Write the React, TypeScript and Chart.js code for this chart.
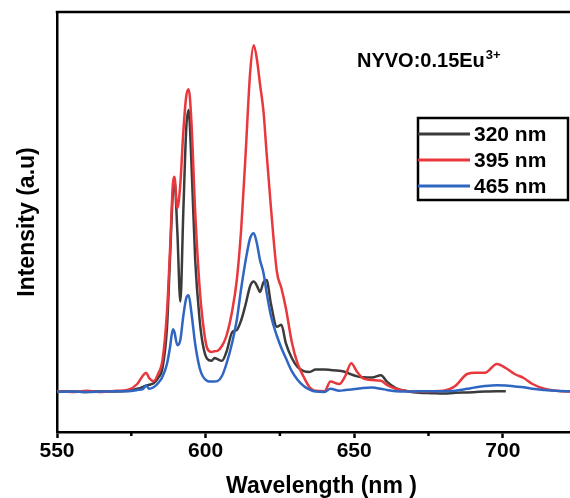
import React, { useEffect, useRef } from 'react';
import { Chart, registerables } from 'chart.js';

Chart.register(...registerables);

// ---- data ----
const wavelengths = [
  550, 555, 560, 565, 570, 574, 577, 579, 580, 581, 582.5, 584, 585.5, 587, 588, 589, 589.5, 590.5,
  591.5, 592.5, 593.5, 594.3, 595.2, 596.5, 598, 599, 600.5, 602, 603, 604, 605.5, 607, 609, 610.5,
  612, 613.5, 615, 616.2, 617.3, 618.3, 619.5, 620.5, 622, 624, 625.5, 627, 629, 631, 633, 635, 637,
  640, 642, 645, 647, 649, 651, 653, 656, 659, 661, 664, 668, 672, 676, 680, 684, 688, 691, 694, 698,
  701, 704, 707, 710, 714, 718, 722, 728,
];

const ex320: (number | null)[] = [
  0.1, 0.1, 0, 0.2, 0.1, 0.3, 0.8, 1.3, 1.6, 1.8, 2.2, 3.5, 6, 16, 33, 50, 53, 40,
  22.6, 45, 66, 70.5, 58, 33, 18, 12.2, 8.3, 7.8, 8.5, 8.2, 7.8, 10, 15, 15.5,
  18, 22, 26.5, 27.6, 26.5, 25, 27.5, 28, 22, 16.3, 16.8, 12.2, 8.5, 6.2, 5.2, 5, 5.6,
  5.6, 5.5, 5.3, 5, 4.4, 3.9, 3.7, 3.6, 4.2, 2.6, 1.0, 0.2, -0.2, -0.3, -0.4, -0.2, -0.1, 0, 0.1, 0.2,
  0.2, null, null, null, null, null, null, null,
];

const ex395: (number | null)[] = [
  0.2, 0, 0.3, 0, 0.3, 0.6, 2, 4.2, 4.8, 3.5, 2.7, 4.5, 8, 20, 35, 52, 53.8, 46,
  52, 65, 74, 75.7, 68, 45, 26, 18, 11, 10, 10.2, 10.3, 11.5, 14, 20.5, 28,
  41, 60, 80, 86.7, 83, 77, 70, 60, 46, 30, 26, 21, 12.5, 7, 3.8, 1.2, 0.3,
  0.2, 2.6, 2.0, 4, 7.2, 5, 3.4, 3.0, 2.8, 1.8, 0.8, 0.2, 0.1, 0.2, 0.3, 1.5, 4.5, 4.8, 4.8, 7,
  6, 4.5, 3.5, 2, 0.8, 0.3, 0.1, 0,
];

const ex465: (number | null)[] = [
  0, 0.1, 0, 0.1, 0.2, 0.2, 0.5, 0.8, 1.6, 0.8, 1.2, 2.2, 3.8, 7, 11, 15.7, 15, 11.7,
  13, 19, 23.5, 24.2, 20, 12, 6, 4, 2.8, 2.6, 2.6, 2.7, 4, 7, 12.5, 18,
  26, 33, 38.5, 39.7, 37, 33, 29.7, 25, 19, 14, 11, 8.5, 5.2, 3, 1.5, 0.6, 0.1,
  0, 0.8, 0.3, 0.5, 0.6, 0.8, 1.0, 1.1, 0.8, 0.5, 0.2, 0.1, 0.2, 0.2, 0.2, 0.3, 0.8, 1.2, 1.5, 1.7,
  1.6, 1.4, 1.2, 0.8, 0.5, 0.3, 0.2, 0.1,
];

const seriesLabels = ['320 nm', '395 nm', '465 nm'];
const seriesColors = ['#3b3b3b', '#e8383d', '#2f66c2'];
const seriesValues = [ex320, ex395, ex465];
const seriesOrder = [2, 1, 0];

const xMajorTicks = [550, 600, 650, 700];
const xMinorTicks = [575, 625, 675, 725];
const xMin = 550;
const xMax = 728;
const yMin = -10;
const yMax = 95;

const sampleText = 'NYVO:0.15Eu';
const sampleSup = '3+';
const xTitle = 'Wavelength (nm )';
const yTitle = 'Intensity (a.u)';

const FONT = '"Liberation Sans", Arial, Helvetica, sans-serif';

const toPoints = (vals: (number | null)[]) =>
  wavelengths
    .map((x, i) => ({ x, y: vals[i] }))
    .filter((p) => p.y !== null && p.y !== undefined);

const overlayPlugin = {
  id: 'overlay',
  afterDraw(chart: any) {
    const ctx = chart.ctx as CanvasRenderingContext2D;
    const { left, top, right, bottom } = chart.chartArea;
    const xs = chart.scales.x;
    ctx.save();
    // frame top & right
    ctx.strokeStyle = '#000';
    ctx.lineWidth = 2.5;
    ctx.beginPath();
    ctx.moveTo(left - 1.25, top);
    ctx.lineTo(right, top);
    ctx.lineTo(right, bottom);
    ctx.stroke();
    // minor ticks
    ctx.lineWidth = 2.5;
    for (const v of xMinorTicks) {
      const px = xs.getPixelForValue(v);
      ctx.beginPath();
      ctx.moveTo(px, bottom);
      ctx.lineTo(px, bottom + 4);
      ctx.stroke();
    }
    // sample annotation
    ctx.fillStyle = '#000';
    ctx.textBaseline = 'alphabetic';
    ctx.textAlign = 'left';
    ctx.font = `bold 20px ${FONT}`;
    const ax = 357;
    const ay = 67;
    ctx.fillText(sampleText, ax, ay);
    const w = ctx.measureText(sampleText).width;
    ctx.font = `bold 13px ${FONT}`;
    ctx.fillText(sampleSup, ax + w + 1, ay - 8);
    // legend
    const bx = 418, by = 118, bw = 150, bh = 82;
    ctx.lineWidth = 2.5;
    ctx.strokeStyle = '#000';
    ctx.strokeRect(bx, by, bw, bh);
    ctx.font = `bold 21px ${FONT}`;
    ctx.textBaseline = 'middle';
    seriesLabels.forEach((lab, i) => {
      const ry = by + 16 + i * 26;
      ctx.strokeStyle = seriesColors[i];
      ctx.lineWidth = 3;
      ctx.beginPath();
      ctx.moveTo(bx, ry);
      ctx.lineTo(bx + 52, ry);
      ctx.stroke();
      ctx.fillStyle = '#000';
      ctx.fillText(lab, bx + 56, ry + 1);
    });
    ctx.restore();
  },
};

export default function App() {
  const canvasRef = useRef<HTMLCanvasElement | null>(null);

  useEffect(() => {
    if (!canvasRef.current) return;
    const chart = new Chart(canvasRef.current, {
      type: 'line',
      data: {
        datasets: seriesLabels.map((label, i) => ({
          label,
          data: toPoints(seriesValues[i]),
          borderColor: seriesColors[i],
          backgroundColor: seriesColors[i],
          borderWidth: 2.5,
          pointRadius: 0,
          cubicInterpolationMode: 'monotone' as const,
          order: seriesOrder[i],
        })),
      },
      options: {
        responsive: false,
        animation: false,
        devicePixelRatio: 1,
        layout: { padding: { top: 12, left: 0, right: 14, bottom: 0 } },
        plugins: { legend: { display: false }, tooltip: { enabled: false } },
        scales: {
          x: {
            type: 'linear',
            min: xMin,
            max: xMax,
            afterBuildTicks: (s: any) => {
              s.ticks = xMajorTicks.map((v) => ({ value: v }));
            },
            afterFit: (s: any) => {
              s.height = 66;
            },
            border: { display: true, color: '#000', width: 2.5 },
            grid: {
              drawOnChartArea: false,
              drawTicks: true,
              tickLength: 6,
              tickWidth: 2.5,
              tickColor: '#000',
              color: '#000',
            },
            ticks: {
              color: '#000',
              font: { family: FONT, size: 21, weight: 'bold' },
              padding: 1,
              maxRotation: 0,
            },
            title: {
              display: true,
              text: xTitle,
              color: '#000',
              font: { family: FONT, size: 23, weight: 'bold' },
              padding: { top: 0, bottom: -2 },
            },
          },
          y: {
            type: 'linear',
            min: yMin,
            max: yMax,
            afterFit: (s: any) => {
              s.width = 57;
            },
            border: { display: true, color: '#000', width: 2.5 },
            grid: { drawOnChartArea: false, drawTicks: false },
            ticks: { display: false },
            title: {
              display: true,
              text: yTitle,
              color: '#000',
              font: { family: FONT, size: 23, weight: 'bold' },
              padding: { top: 14, bottom: 0 },
            },
          },
        },
      },
      plugins: [overlayPlugin],
    });
    return () => chart.destroy();
  }, []);

  return (
    <div
      style={{
        position: 'absolute',
        left: 0,
        top: 0,
        width: 570,
        height: 498,
        overflow: 'hidden',
        background: '#fff',
      }}
    >
      <canvas ref={canvasRef} width={600} height={498} style={{ display: 'block' }} />
    </div>
  );
}
